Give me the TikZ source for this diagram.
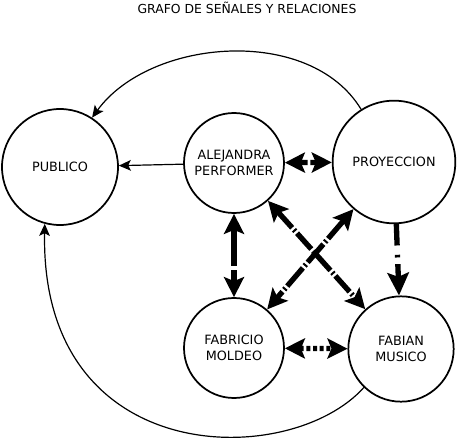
\documentclass[tikz,border=0pt]{standalone}
\usepackage{fontspec}
\setmainfont{DejaVu Sans}
\usetikzlibrary{arrows.meta}

\begin{document}
\begin{tikzpicture}[x=0.75pt, y=-0.75pt,
  actor/.style={circle, draw, line width=1.3pt, minimum size=#1, inner sep=0pt, align=center, font=\fontsize{9.6}{11.5}\selectfont},
  flecha/.style={line width=0.9pt, -{Stealth[length=9pt, width=8pt, inset=2pt]}},
  senal/.style={line width=4pt, -{Stealth[length=17pt, width=16pt, inset=3pt]}},
  duplex/.style={line width=4pt, {Stealth[length=15pt, width=15pt, inset=3pt]}-{Stealth[length=15pt, width=15pt, inset=3pt]}}
]
  \useasboundingbox (0,0) rectangle (457,439);
  \node[font=\fontsize{9.3}{11}\selectfont] (titulo) at (247,8) {GRAFO DE SEÑALES Y RELACIONES};

  \node[actor=87pt] (publico) at (60,167) {PUBLICO};
  \node[actor=75pt] (alejandra) at (234,163) {ALEJANDRA\\PERFORMER};
  \node[actor=92pt] (proyeccion) at (394,162) {PROYECCION};
  \node[actor=75pt] (fabricio) at (234,348) {FABRICIO\\MOLDEO};
  \node[actor=79pt] (fabian) at (401,349) {FABIAN\\MUSICO};

  % senales hacia el publico
  \draw[flecha] (alejandra) -- (publico);
  \draw[flecha] (proyeccion.122) .. controls (310,25) and (150,38) .. (publico.57);
  \draw[flecha] (fabian.226) .. controls (290,470) and (40,470) .. (publico.255);

  % relaciones entre artistas
  \draw[duplex, dash pattern=on 6pt off 2pt] (alejandra) -- (proyeccion);
  \draw[duplex, dash pattern=on 28pt off 3pt] (alejandra) -- (fabricio);
  \draw[duplex, dash pattern=on 16pt off 2pt on 1.5pt off 2pt] (alejandra) -- (fabian);
  \draw[duplex, dash pattern=on 18pt off 2pt on 1.5pt off 2pt] (proyeccion) -- (fabricio);
  \draw[senal, dash pattern=on 16pt off 7pt on 2pt off 5pt] (proyeccion) -- (fabian);
  \draw[duplex, dash pattern=on 3pt off 2pt] (fabricio) -- (fabian);
\end{tikzpicture}
\end{document}
